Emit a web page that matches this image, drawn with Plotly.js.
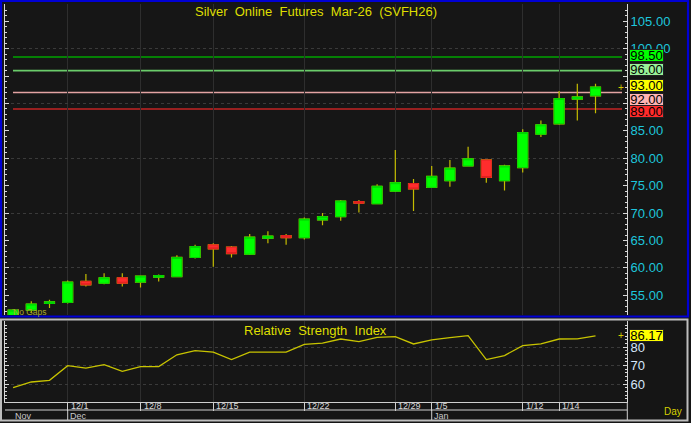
<!DOCTYPE html>
<html><head><meta charset="utf-8">
<script src="https://cdn.plot.ly/plotly-3.0.1.min.js"></script>
<style>html,body{margin:0;padding:0;background:#151515;}#chart{width:691px;height:423px;}</style>
</head><body><div id="chart"></div>
<script>
// ---- data ----
const dates = ['2025-11-24','2025-11-25','2025-11-26','2025-12-01','2025-12-02','2025-12-03','2025-12-04',
  '2025-12-08','2025-12-09','2025-12-10','2025-12-11','2025-12-15','2025-12-16','2025-12-17','2025-12-18',
  '2025-12-19','2025-12-22','2025-12-23','2025-12-24','2025-12-25','2025-12-26','2025-12-29','2025-12-30',
  '2026-01-05','2026-01-06','2026-01-07','2026-01-08','2026-01-09','2026-01-12','2026-01-13','2026-01-14',
  '2026-01-15','2026-01-16'];
const openP  = [51.2,52.3,53.5,53.7,57.55,57.2,58.2,57.4,58.3,58.4,61.9,64.2,63.8,62.5,65.4,65.9,65.5,68.75,69.35,72.1,71.7,74.0,75.4,74.7,75.9,78.6,79.7,75.9,78.3,84.4,86.3,90.8,91.4];
const highP  = [52.5,53.9,54.2,57.7,58.9,59.0,59.0,58.6,58.8,62.3,64.2,64.5,64.0,66.2,66.7,66.2,69.2,70.0,72.4,72.4,75.25,81.5,76.2,78.6,79.7,82.1,79.8,78.8,85.3,86.9,92.3,93.6,93.6];
const lowP   = [50.8,51.8,52.7,53.5,56.6,57.0,56.6,56.4,57.5,58.3,61.7,60.2,61.9,62.35,64.5,64.2,65.2,67.8,68.6,70.1,71.6,73.85,70.4,74.6,74.8,78.5,75.55,74.1,77.4,83.9,86.1,86.9,88.2];
const closeP = [52.3,53.4,53.8,57.4,56.9,58.2,57.2,58.5,58.6,61.9,63.9,63.45,62.6,65.6,65.8,65.5,68.9,69.35,72.2,71.8,74.9,75.55,74.4,76.7,78.2,79.9,76.5,78.6,84.7,86.1,90.9,91.2,93.0];
const rsi    = [58.0,61.1,62.0,70.0,68.6,70.5,66.9,69.5,69.5,75.9,78.2,77.3,73.3,77.3,77.3,77.3,81.6,82.2,84.5,83.1,85.4,85.8,81.8,84.0,85.2,86.3,73.3,75.5,80.9,81.9,84.5,84.6,86.17];
const tickDates = ['2025-12-01','2025-12-08','2025-12-15','2025-12-22','2025-12-29','2026-01-05','2026-01-12','2026-01-14'];
const tickText  = ['12/1','12/8','12/15','12/22','12/29','1/5','1/12','1/14'];
const monthDates = ['2025-11-24','2025-12-01','2026-01-05'];
const monthText  = ['Nov','Dec','Jan'];
const priceTicks = [55, 60, 65, 70, 75, 80, 85, 90, 95, 100, 105];
const priceTickText = ['55.00','60.00','65.00','70.00','75.00','80.00','85.00','','','100.00','105.00'];
const levels = [98.5, 96.0, 92.0, 89.0];
const rsiTicks = [60, 70, 80];
const titleText = 'Silver\u00a0 Online\u00a0 Futures\u00a0 Mar-26\u00a0 (SVFH26)';
const rsiTitle = 'Relative\u00a0 Strength\u00a0 Index';

// ---- styling helpers ----
const W = 691, H = 423;
const px = x => x / W;
const py = y => 1 - y / H;
const F = 'Liberation Sans, Arial, sans-serif';
const levelColors = ['#00a400', '#6acb6a', '#e3a3a3', '#c42424'];
const lastClose = closeP[closeP.length - 1];
const lastRsi = rsi[rsi.length - 1];
const labelVals = [levels[0], levels[1], lastClose, levels[2], levels[3]];
const labelBg = ['#00ff00', '#98f098', '#ffff00', '#ffb4b4', '#ff2b2b'];
const labelShift = [1, 1, 1.2, -6.7, -2.9];

const bodyHigh = openP.map((o, i) => Math.max(o, closeP[i]));
const bodyLow = openP.map((o, i) => Math.min(o, closeP[i]));

const wickCol = '#c4bc00';
const traces = [
  { type: 'scatter', x: dates, y: closeP, yaxis: 'y3', xaxis: 'x', mode: 'lines', opacity: 0, hoverinfo: 'skip', showlegend: false },
  { type: 'candlestick', x: dates, open: openP, high: highP, low: lowP, close: closeP, xaxis: 'x', yaxis: 'y',
    whiskerwidth: 0,
    increasing: { line: { color: wickCol, width: 1.2 }, fillcolor: '#00ff00' },
    decreasing: { line: { color: wickCol, width: 1.2 }, fillcolor: '#ff2d2d' }, hoverinfo: 'skip' },
  { type: 'candlestick', x: dates, open: openP, high: bodyHigh, low: bodyLow, close: closeP, xaxis: 'x', yaxis: 'y',
    whiskerwidth: 0,
    increasing: { line: { color: '#00d400', width: 1 }, fillcolor: '#00ff00' },
    decreasing: { line: { color: '#e02020', width: 1 }, fillcolor: '#ff2d2d' }, hoverinfo: 'skip' },
  { type: 'scatter', x: dates, y: rsi, xaxis: 'x', yaxis: 'y2', mode: 'lines',
    line: { color: '#c8c400', width: 1.3 }, hoverinfo: 'skip' }
];

const shapes = [];
levels.forEach((v, k) => shapes.push({ type: 'line', xref: 'paper', x0: px(13), x1: px(622), yref: 'y', y0: v, y1: v,
  line: { color: levelColors[k], width: 1.6 }, layer: 'below' }));
// panel frames
shapes.push({ type: 'rect', xref: 'paper', yref: 'paper', x0: px(1), x1: px(688), y0: py(316.5), y1: py(1),
  line: { color: '#0000d4', width: 2.2 } });
shapes.push({ type: 'rect', xref: 'paper', yref: 'paper', x0: px(1), x1: px(687.5), y0: py(420.5), y1: py(319.5),
  line: { color: '#bdbdbd', width: 2 } });
shapes.push({ type: 'line', xref: 'paper', yref: 'paper', x0: px(5), x1: px(627), y0: py(410), y1: py(410),
  line: { color: '#cfcfcf', width: 1 } });
shapes.push({ type: 'line', xref: 'paper', yref: 'paper', x0: px(627.3), x1: px(627.3), y0: py(402), y1: py(420),
  line: { color: '#cfcfcf', width: 1 } });
monthDates.slice(1).forEach(d => {
  const i = dates.indexOf(d);
  shapes.push({ type: 'line', xref: 'x', yref: 'paper', x0: i, x1: i, y0: py(410), y1: py(420),
    line: { color: '#cfcfcf', width: 1 } });
});

const annotations = [];
tickDates.forEach((d, k) => annotations.push({ xref: 'x', x: dates.indexOf(d), xanchor: 'left', xshift: 1,
  yref: 'paper', y: py(406), yanchor: 'middle', text: tickText[k], showarrow: false,
  font: { family: F, size: 9, color: '#d8d8d8' } }));
monthDates.forEach((d, k) => annotations.push({ xref: 'x', x: dates.indexOf(d), xanchor: 'left', xshift: 0,
  yref: 'paper', y: py(416), yanchor: 'middle', text: monthText[k], showarrow: false,
  font: { family: F, size: 9, color: '#c8c8c8' } }));
labelVals.forEach((v, k) => annotations.push({ xref: 'paper', x: px(629), xanchor: 'left', yref: 'y', y: v,
  yanchor: 'middle', yshift: labelShift[k], text: v.toFixed(2), showarrow: false,
  width: 33, height: 10.5, borderpad: 0, borderwidth: 1, bordercolor: '#202020', bgcolor: labelBg[k],
  font: { family: F, size: 13, color: '#000' } }));
annotations.push({ xref: 'paper', x: px(629), xanchor: 'left', yref: 'y2', y: lastRsi, yanchor: 'middle',
  text: lastRsi.toFixed(2), showarrow: false, width: 33, height: 10.5, borderpad: 0, borderwidth: 1,
  bordercolor: '#202020', bgcolor: '#ffff00', font: { family: F, size: 13, color: '#000' } });
annotations.push({ xref: 'paper', x: px(620.5), xanchor: 'center', yref: 'y', y: lastClose, yanchor: 'middle',
  text: '+', showarrow: false, font: { family: F, size: 10, color: '#d0c800' } });
annotations.push({ xref: 'paper', x: px(620.5), xanchor: 'center', yref: 'y2', y: lastRsi, yanchor: 'middle',
  text: '+', showarrow: false, font: { family: F, size: 10, color: '#d0c800' } });
annotations.push({ xref: 'paper', x: px(315), xanchor: 'center', yref: 'paper', y: py(330), yanchor: 'middle',
  text: rsiTitle, showarrow: false, font: { family: F, size: 13, color: '#dede00' } });
annotations.push({ xref: 'paper', x: px(11), xanchor: 'left', yref: 'paper', y: py(312), yanchor: 'middle',
  text: 'No Gaps', showarrow: false, font: { family: F, size: 8.5, color: '#a8a830' } });
annotations.push({ xref: 'paper', x: px(662), xanchor: 'left', yref: 'paper', y: py(411), yanchor: 'middle',
  text: 'Day', showarrow: false, font: { family: F, size: 10, color: '#d4d000' } });

const tickC = '#d8d8d8';
const layout = {
  width: W, height: H, autosize: false,
  margin: { l: 0, r: 0, t: 0, b: 0, pad: 0 },
  paper_bgcolor: '#151515', plot_bgcolor: '#161616',
  showlegend: false, hovermode: false, dragmode: false,
  boxgap: 0.214, boxgroupgap: 0.3,
  title: { text: titleText, x: px(316), xanchor: 'center', y: py(11), yanchor: 'middle',
    font: { family: F, size: 13, color: '#dede00' } },
  xaxis: { type: 'category', categoryorder: 'array', categoryarray: dates, range: [-0.445, 33.73],
    domain: [px(5), px(627)], anchor: 'y2', rangeslider: { visible: false },
    tickmode: 'array', tickvals: tickDates, ticktext: tickText, showticklabels: false,
    ticks: 'outside', ticklen: 8, tickcolor: '#cfcfcf', showline: true, linecolor: '#cfcfcf', linewidth: 1,
    showgrid: true, gridcolor: '#2e2e2e', gridwidth: 1, zeroline: false, fixedrange: true },
  yaxis: { domain: [py(315), py(4)], range: [51.4, 108.16], side: 'right', anchor: 'x',
    tickmode: 'array', tickvals: priceTicks, ticktext: priceTickText, ticks: 'inside', ticklen: 4, tickcolor: tickC,
    showline: true, linecolor: tickC, linewidth: 1, mirror: 'ticks',
    minor: { tickmode: 'linear', tick0: 0, dtick: 1, ticks: 'inside', ticklen: 2, tickcolor: tickC, showgrid: false },
    showgrid: false, zeroline: false, tickfont: { family: F, size: 13, color: '#1ec6dc' }, fixedrange: true },
  yaxis3: { overlaying: 'y', anchor: 'x', range: [51.4, 108.16], tickmode: 'linear', tick0: 0, dtick: 10,
    showgrid: true, gridcolor: '#3a3a3a', griddash: 'dot', showticklabels: false, ticks: '',
    showline: false, zeroline: false, fixedrange: true },
  yaxis2: { domain: [py(402), py(321)], range: [50.2, 94.3], side: 'right', anchor: 'x',
    tickmode: 'array', tickvals: rsiTicks, ticks: 'inside', ticklen: 4, tickcolor: tickC,
    showline: true, linecolor: tickC, linewidth: 1, mirror: 'ticks',
    minor: { tickmode: 'linear', tick0: 0, dtick: 2, ticks: 'inside', ticklen: 2, tickcolor: tickC, showgrid: false },
    showgrid: true, gridcolor: '#3a3a3a', griddash: 'dot', zeroline: false,
    tickfont: { family: F, size: 13, color: '#d6e6fa' }, fixedrange: true },
  shapes: shapes,
  annotations: annotations
};

Plotly.newPlot('chart', traces, layout, { displayModeBar: false, staticPlot: true });
</script>
</body></html>
